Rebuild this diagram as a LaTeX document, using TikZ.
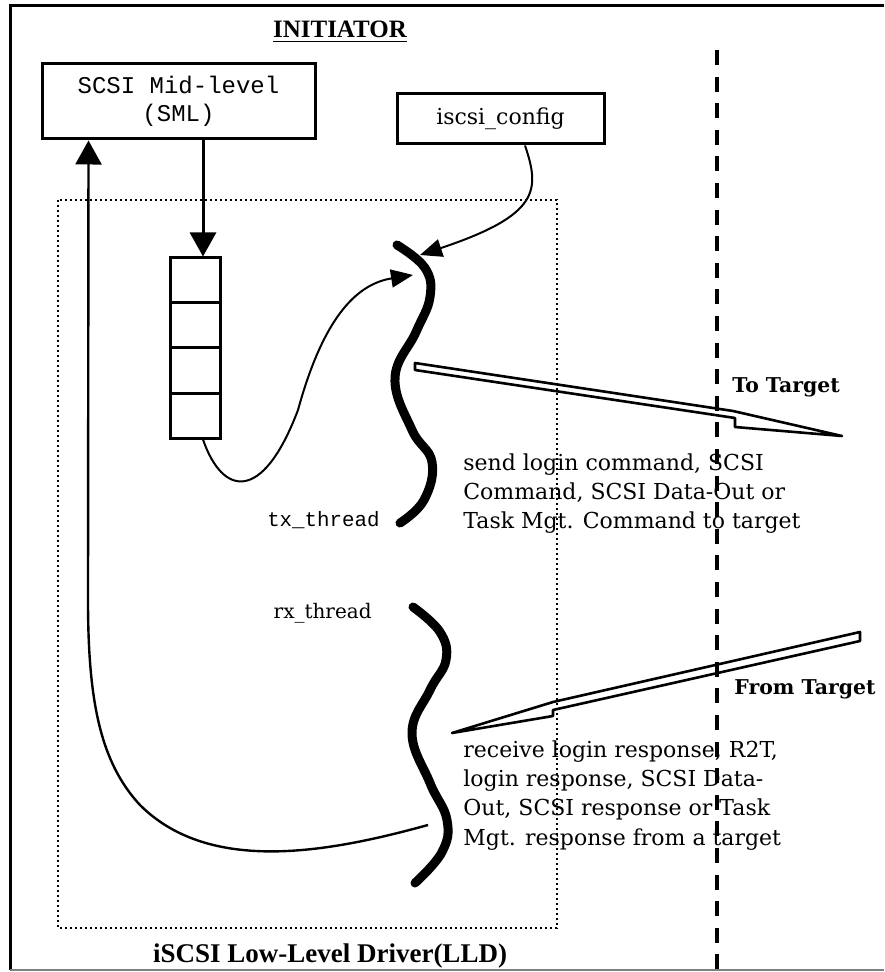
\documentclass[tikz,border=0pt]{standalone}
\usepackage{fontspec}
\setmainfont{DejaVu Serif}
\setmonofont{Liberation Mono}
\newfontfamily\titlefont{Liberation Serif}
\usetikzlibrary{arrows.meta,positioning}
\begin{document}
\begin{tikzpicture}[x=0.5pt,y=-0.5pt,
    box/.style={draw, line width=1.5pt, inner sep=0pt},
    cell/.style={draw, line width=1.5pt, minimum width=25pt, minimum height=22.5pt, inner sep=0pt},
    thread/.style={line width=4.5pt, line cap=round},
    link/.style={line width=1.5pt, -{Triangle[length=12pt,width=13pt]}},
    curvy/.style={line width=1pt, -{Triangle[length=11pt,width=9pt]}},
    hollow/.style={line width=1.3pt, line join=round},
    title/.style={inner sep=0pt, font=\titlefont\bfseries\fontsize{#1}{16}\selectfont},
    tag/.style={inner sep=0pt, anchor=base west, font=\bfseries\fontsize{10.2}{12}\selectfont},
    note/.style={inner sep=0pt, anchor=north west, align=left, font=\fontsize{11}{14.7}\selectfont}]

\useasboundingbox (0,0) rectangle (884,972);

% frame
\draw[line width=1.5pt] (884,6) -- (10,6) -- (10,970);
\draw[gray, line width=0.6pt] (10,970) -- (884,970);
\node[title=12.5, anchor=base] (init) at (340,38) {\underline{INITIATOR}};

% initiator / target boundary
\draw[line width=2pt, dash pattern=on 7.5pt off 5.8pt] (717,50) -- (717,972);

% boxes
\node[box, minimum width=136.5pt, minimum height=37.5pt, align=center,
      font=\ttfamily\fontsize{12}{14}\selectfont] (sml) at (178.5,101.5) {SCSI Mid-level\\(SML)};
\node[box, minimum width=103.5pt, minimum height=25pt,
      font=\fontsize{11}{13}\selectfont] (config) at (500.5,119) {iscsi\_config};

% command queue
\foreach \i in {1,...,4}
    \node[cell] (q\i) at (195,{235.5+45*\i}) {};

% low-level driver
\draw[line width=1.3pt, dash pattern=on 1.2pt off 1.3pt] (58,200) rectangle (557,928);
\node[title=13.5, anchor=base] (lld) at (330,962) {iSCSI Low-Level Driver(LLD)};

% threads
\draw[thread] plot[smooth, tension=0.7] coordinates {(397,245) (425,268) (430,297) (416,332) (395,378) (412,430) (432,462) (424,500) (400,523)};
\draw[thread] plot[smooth, tension=0.7] coordinates {(413,607) (440,632) (446,660) (430,690) (412,733) (430,783) (447,820) (442,852) (415,883)};
\node[anchor=base east, inner sep=0pt, font=\ttfamily\fontsize{10.4}{12}\selectfont] (txlbl) at (380,526) {tx\_thread};
\node[anchor=base east, inner sep=0pt, font=\fontsize{10}{11}\selectfont] (rxlbl) at (372,618) {rx\_thread};

\coordinate (txin) at (413,275);
\coordinate (cfgin) at (420,255);
\coordinate (rxout) at (428,825);

% connectors
\draw[link] ([xshift=4pt]q1.north |- sml.south) -- ([xshift=4pt]q1.north);
\draw[curvy] ([xshift=4pt]q4.south) .. controls (222,495) and (262,505) .. (298,410)
    .. controls (320,330) and (350,285) .. (txin);
\draw[curvy] ([xshift=12.25pt]config.south) .. controls (540,190) and (540,215) .. (cfgin);
\draw[link, line width=1.2pt] (rxout) .. controls (330,852) and (210,875) .. (140,805)
    .. controls (100,762) and (88,700) .. (88,600) -- ([xshift=24pt]sml.south west);

% to / from target
\draw[hollow] (415,363) -- (733,411) -- (842,436) -- (735,427) -- (735,418) -- (415,370) -- cycle;
\draw[hollow] (860,632) -- (553,702) -- (452,733) -- (553,716) -- (553,710) -- (860,641) -- cycle;
\node[tag] (to) at (732,393) {To Target};
\node[tag] (from) at (734,694) {From Target};

\node[note] (send) at (463,453) {send login command, SCSI\\Command, SCSI Data-Out or\\Task Mgt. Command to target};
\node[note] (recv) at (463,740) {receive login response, R2T,\\login response, SCSI Data-\\Out, SCSI response or Task\\Mgt. response from a target};
\end{tikzpicture}
\end{document}
